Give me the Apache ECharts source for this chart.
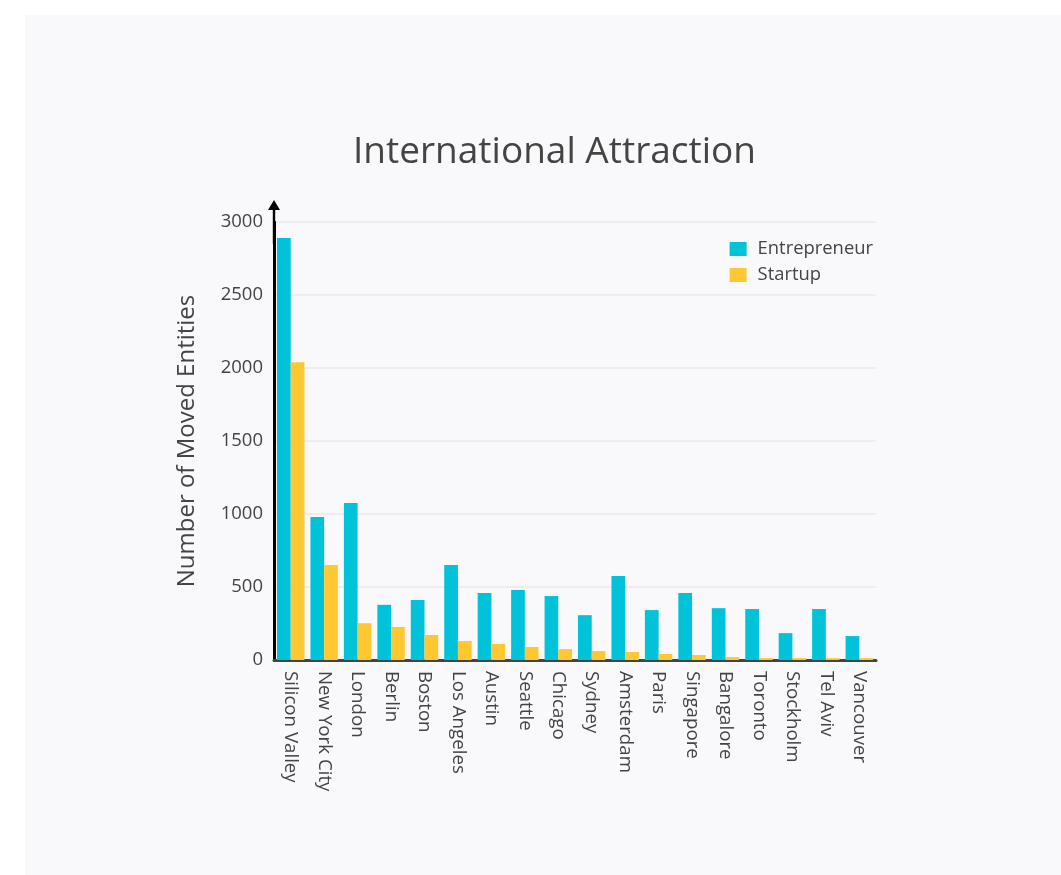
<!DOCTYPE html>
<html>
<head>
<meta charset="utf-8">
<title>International Attraction</title>
<script src="https://cdn.jsdelivr.net/npm/echarts@6/dist/echarts.min.js"></script>
<style>
  html, body { margin: 0; padding: 0; background: #ffffff; }
  #chart { position: absolute; left: 25px; top: 15px; width: 1036px; height: 860px; }
</style>
</head>
<body>
<div id="chart"></div>
<script>
// cities, ordered as in the picture
const cities = ['Silicon Valley', 'New York City', 'London', 'Berlin', 'Boston', 'Los Angeles',
  'Austin', 'Seattle', 'Chicago', 'Sydney', 'Amsterdam', 'Paris', 'Singapore', 'Bangalore',
  'Toronto', 'Stockholm', 'Tel Aviv', 'Vancouver']
const entrepreneur = [2890, 980, 1075, 378, 411, 650, 459, 480, 438, 307, 575, 342, 459, 355, 349, 184, 349, 164]
const startup = [2040, 650, 252, 226, 171, 130, 110, 89, 75, 61, 55, 41, 34, 20, 13, 13, 13, 13]
const yTicks = [0, 500, 1000, 1500, 2000, 2500, 3000]

const font = '"Open Sans", "Noto Sans", sans-serif'
const textColor = '#444444'

let chart = echarts.init(document.getElementById('chart'))
let option = {
  backgroundColor: '#f9f9fb',
  animation: false,
  color: ['#00c3d9', '#ffc832'],
  textStyle: { fontFamily: font },
  title: {
    text: 'International Attraction',
    left: 323,
    top: 114,
    textStyle: {
      fontFamily: font,
      fontSize: 37,
      fontWeight: 'normal',
      color: textColor
    }
  },
  legend: {
    orient: 'vertical',
    right: 183,
    top: 220,
    itemWidth: 17,
    itemHeight: 14,
    itemGap: 8,
    icon: 'rect',
    textStyle: { fontFamily: font, fontSize: 18.4, color: textColor, padding: [0, 0, 0, 6] },
    data: ['Entrepreneur', 'Startup']
  },
  grid: {
    left: 249,
    right: 185,
    top: 207,
    bottom: 215
  },
  xAxis: {
    type: 'category',
    data: cities,
    axisTick: { show: false },
    axisLine: { lineStyle: { color: '#444444', width: 3 } },
    axisLabel: {
      rotate: -90,
      margin: 11,
      interval: 0,
      fontFamily: font,
      fontSize: 18.7,
      color: textColor
    }
  },
  yAxis: {
    type: 'value',
    min: yTicks[0],
    max: yTicks[yTicks.length - 1],
    interval: 500,
    name: 'Number of Moved Entities',
    nameLocation: 'middle',
    nameGap: 75,
    nameTextStyle: { fontFamily: font, fontSize: 24, color: textColor },
    axisLine: {
      show: true,
      onZero: false,
      lineStyle: { color: '#000000', width: 3 },
      symbol: ['none', 'path://M6,0 L12,10 L7.2,10 L7.2,44 L4.8,44 L4.8,10 L0,10 Z'],
      symbolSize: [12, 44],
      symbolOffset: [0, 0]
    },
    axisTick: { show: false },
    axisLabel: {
      margin: 11,
      fontFamily: font,
      fontSize: 18.5,
      color: textColor,
      formatter: function (v) { return String(v) }
    },
    splitLine: { lineStyle: { color: '#eeeef0', width: 2 } }
  },
  series: [
    {
      name: 'Entrepreneur',
      type: 'bar',
      data: entrepreneur,
      barGap: '0%',
      barCategoryGap: '18%'
    },
    {
      name: 'Startup',
      type: 'bar',
      data: startup,
      barGap: '0%',
      barCategoryGap: '18%'
    }
  ]
}
chart.setOption(option)
</script>
</body>
</html>
